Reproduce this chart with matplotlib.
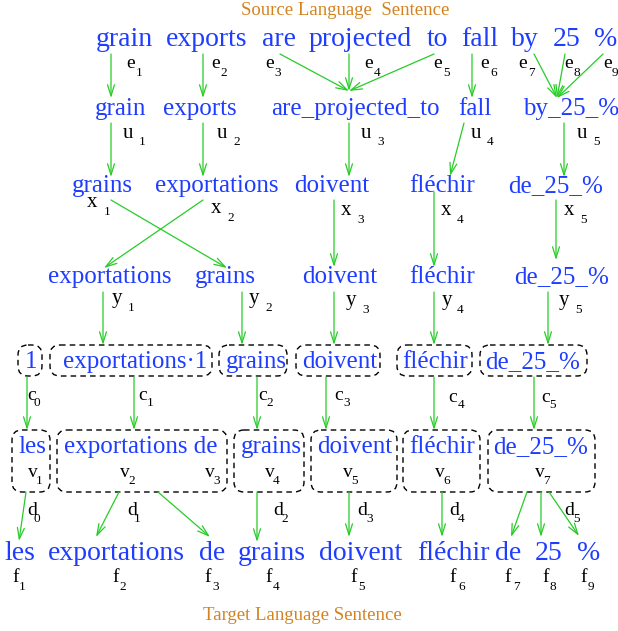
"""Alignment diagram: source sentence -> units -> translation -> reorder -> cepts -> target."""
import matplotlib
matplotlib.use("Agg")
import matplotlib.pyplot as plt
from matplotlib.patches import FancyBboxPatch

BLUE = "#1f3dff"
GREEN = "#27cc27"
ORANGE = "#d4821e"
FONT = "Liberation Serif"

# --- words on each level ---
source_title = "Source Language  Sentence"
target_title = "Target Language Sentence"
source_words = ["grain", "exports", "are", "projected", "to", "fall", "by", "25", "%"]
unit_words = ["grain", "exports", "are_projected_to", "fall", "by_25_%"]
trans_words = ["grains", "exportations", "doivent", "fléchir", "de_25_%"]
reorder_words = ["exportations", "grains", "doivent", "fléchir", "de_25_%"]
cept_words = ["1", "exportations·1", "grains", "doivent", "fléchir", "de_25_%"]
frag_words = ["les", "exportations de", "grains", "doivent", "fléchir", "de_25_%"]
target_words = ["les", "exportations", "de", "grains", "doivent", "fléchir", "de", "25", "%"]

# --- variable labels (letter, subscripts) ---
e_subs = ["1", "2", "3", "4", "5", "6", "7", "8", "9"]
u_subs = ["1", "2", "3", "4", "5"]
x_subs = ["1", "2", "3", "4", "5"]
y_subs = ["1", "2", "3", "4", "5"]
c_subs = ["0", "1", "2", "3", "4", "5"]
v_subs = ["1", "2", "3", "4", "5", "6", "7"]
d_subs = ["0", "1", "2", "3", "4", "5"]
f_subs = ["1", "2", "3", "4", "5", "6", "7", "8", "9"]

# --- layout (pixel space, y down) ---
source_x = [124, 207, 279, 360, 437, 480, 525, 567, 606]
unit_x = [121, 200, 355, 475, 571]
trans_x = [102, 217, 332, 442, 556]
reorder_x = [110, 225, 340, 442, 562]
cept_x = [31, 135, 256, 340, 435, 533]
frag_x = [32, 141, 271, 355, 442, 541]
target_x = [20, 116, 212, 272, 361, 453, 508, 549, 589]

cept_boxes = [(18, 42), (50, 212), (219, 287), (296, 380), (397, 472), (480, 587)]
frag_boxes = [(12, 50), (57, 227), (234, 304), (311, 397), (403, 480), (488, 595)]

# (letter x, letter baseline, sub x, sub baseline)
e_pos = [(126, 68, 136, 76), (211, 68, 220, 76), (265, 68, 274, 76),
         (364, 68, 374, 76), (433, 68, 443, 76), (480, 68, 490, 76),
         (518, 68, 528, 76), (564, 68, 574, 76), (603, 68, 612, 76)]
u_pos = [(123, 138, 139, 145), (217, 138, 233, 145), (361, 138, 377, 145),
         (471, 138, 487, 145), (577, 138, 593, 145)]
x_pos = [(87, 207, 104, 215), (211, 213, 227, 221), (341, 215, 357, 223),
         (441, 215, 457, 223), (564, 215, 580, 223)]
y_pos = [(112, 303, 128, 311), (249, 303, 265, 311), (346, 305, 362, 313),
         (442, 305, 457, 313), (559, 305, 575, 313)]
c_pos = [(27, 400, 34, 406), (138, 400, 147, 406), (258, 400, 266, 406),
         (334, 400, 343, 406), (448, 402, 458, 408), (541, 402, 549, 408)]
v_pos = [(28, 477, 36, 484), (120, 477, 128, 484), (205, 477, 213, 484),
         (265, 477, 273, 484), (343, 477, 351, 484), (435, 477, 443, 484),
         (535, 477, 543, 484)]
d_pos = [(27, 515, 34, 522), (127, 515, 134, 522), (273, 515, 281, 522),
         (357, 515, 366, 522), (449, 515, 458, 522), (564, 515, 573, 522)]
f_pos = [(12, 582, 19, 590), (112, 582, 119, 590), (204, 582, 212, 590),
         (265, 582, 273, 590), (350, 582, 358, 590), (449, 582, 458, 590),
         (504, 582, 513, 590), (542, 582, 550, 590), (580, 582, 588, 590)]

arrows = [
    # source -> units
    ((111, 54), (111, 98)), ((203, 54), (203, 98)),
    ((280, 54), (349, 91)), ((349, 54), (349, 91)), ((434, 54), (349, 91)),
    ((472, 54), (472, 98)),
    ((534, 54), (557, 98)), ((565, 54), (557, 98)), ((603, 54), (557, 98)),
    # units -> translation
    ((111, 123), (111, 177)), ((203, 123), (203, 177)), ((349, 123), (349, 177)),
    ((464, 123), (450, 176)), ((564, 123), (564, 177)),
    # translation -> reorder
    ((111, 200), (227, 268)), ((203, 200), (104, 268)),
    ((334, 200), (334, 267)), ((434, 192), (434, 267)), ((556, 200), (556, 260)),
    # reorder -> cepts
    ((103, 292), (103, 345)), ((242, 292), (242, 345)), ((334, 292), (334, 345)),
    ((434, 292), (434, 345)), ((548, 292), (548, 345)),
    # cepts -> fragments
    ((27, 377), (27, 430)), ((134, 377), (134, 430)), ((257, 377), (257, 430)),
    ((326, 377), (326, 430)), ((434, 377), (434, 430)), ((534, 377), (534, 430)),
    # fragments -> target
    ((26, 492), (19, 541)), ((119, 492), (96, 537)), ((158, 492), (210, 537)),
    ((257, 492), (257, 542)), ((349, 492), (349, 537)), ((442, 492), (442, 537)),
    ((527, 492), (511, 537)), ((541, 492), (541, 537)), ((549, 492), (579, 536)),
]


def words(ax, items, xs, base, size):
    for w, x in zip(items, xs):
        ax.text(x, base, w, ha="center", va="baseline", color=BLUE,
                fontsize=size, family=FONT)


def labels(ax, letter, subs, pos, size=14.5):
    for s, (lx, ly, sx, sy) in zip(subs, pos):
        ax.text(lx, ly, letter, ha="left", va="baseline", color="black",
                fontsize=size, family=FONT)
        ax.text(sx, sy, s, ha="left", va="baseline", color="black",
                fontsize=9.5, family=FONT)


def boxes(ax, spans, top, bottom):
    for x0, x1 in spans:
        ax.add_patch(FancyBboxPatch(
            (x0, top), x1 - x0, bottom - top,
            boxstyle="round,pad=0,rounding_size=10",
            fill=False, ec="black", lw=1.0, ls=(0, (4, 3))))


def main() -> None:
    fig = plt.figure(figsize=(6.18, 6.31), dpi=100)
    ax = fig.add_axes([0, 0, 1, 1])
    ax.set_xlim(0, 618)
    ax.set_ylim(631, 0)
    ax.axis("off")

    ax.text(345, 15, source_title, ha="center", va="baseline", color=ORANGE,
            fontsize=13.5, family=FONT)
    ax.text(302, 620, target_title, ha="center", va="baseline", color=ORANGE,
            fontsize=13.5, family=FONT)

    words(ax, source_words, source_x, 46, 20)
    words(ax, unit_words, unit_x, 115, 18)
    words(ax, trans_words, trans_x, 192, 18)
    words(ax, reorder_words, reorder_x, 283, 18)
    words(ax, cept_words, cept_x, 368, 18)
    words(ax, frag_words, frag_x, 453, 18)
    words(ax, target_words, target_x, 560, 20)

    boxes(ax, cept_boxes, 345, 376)
    boxes(ax, frag_boxes, 430, 492)

    labels(ax, "e", e_subs, e_pos, 14)
    labels(ax, "u", u_subs, u_pos, 15)
    labels(ax, "x", x_subs, x_pos, 15)
    labels(ax, "y", y_subs, y_pos, 15)
    labels(ax, "c", c_subs, c_pos, 14)
    labels(ax, "v", v_subs, v_pos, 14)
    labels(ax, "d", d_subs, d_pos, 14)
    labels(ax, "f", f_subs, f_pos, 14)

    for start, end in arrows:
        ax.annotate("", xy=end, xytext=start,
                    arrowprops=dict(arrowstyle="->,head_length=0.8,head_width=0.25",
                                    color=GREEN, lw=0.9, shrinkA=0, shrinkB=0,
                                    mutation_scale=10))

    fig.savefig("out.png", dpi=100)
    plt.close(fig)


if __name__ == "__main__":
    main()
